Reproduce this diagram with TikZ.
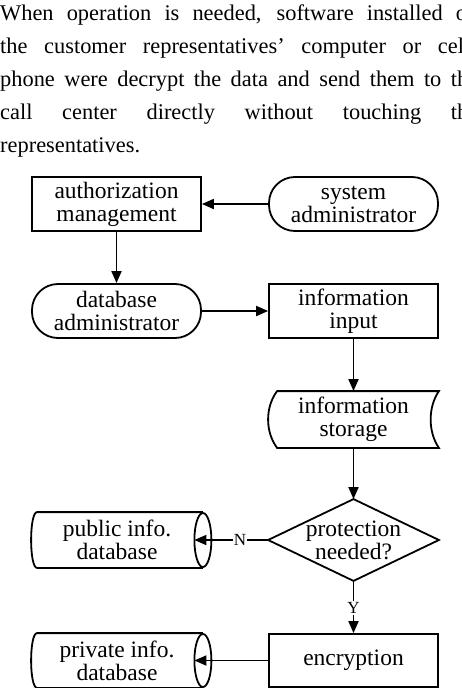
\documentclass[tikz,border=0pt]{standalone}
\usepackage{fontspec}
\setmainfont{Liberation Serif}
\usetikzlibrary{arrows.meta,calc}
\newcommand\diagfont{\fontsize{23.5}{23}\selectfont}
\newcommand\parafont{\fontsize{22.4}{33}\selectfont}
\begin{document}
\begin{tikzpicture}[x=1pt,y=-1pt,
  lw/.style={line width=1.8pt},
  shapebox/.style={lw, minimum width=169pt, minimum height=54pt, inner sep=0pt, align=center, font=\diagfont},
  rectbox/.style={shapebox, draw},
  stadium/.style={shapebox, draw, rounded corners=26pt},
  plainbox/.style={shapebox, draw=none},
  arr/.style={lw, -{Triangle[length=12pt,width=10pt]}},
  lbl/.style={fill=white, inner sep=1pt, font=\fontsize{17}{17}\selectfont},
  paraline/.style={anchor=base west, inner sep=0pt, font=\parafont}]
\useasboundingbox (0,0) rectangle (462,688);
\clip (0,0) rectangle (462,688);

% paragraph
\node[paraline] (p1) at (0,20) {\makebox[478pt][s]{When operation is needed, software installed on}};
\node[paraline] (p2) at (0,53) {\makebox[470pt][s]{the customer representatives’ computer or cell}};
\node[paraline] (p3) at (0,86) {\makebox[478pt][s]{phone were decrypt the data and send them to the}};
\node[paraline] (p4) at (0,119) {\makebox[478pt][s]{call center directly without touching the}};
\node[paraline] (p5) at (0,152) {representatives.};

% nodes
\node[rectbox] (auth) at (116.5,204) {authorization\\management};
\node[stadium] (sys) at (353.5,204) {system\\administrator};
\node[stadium] (dba) at (116.5,311) {database\\administrator};
\node[rectbox] (inp) at (353.5,311) {information\\input};
\node[plainbox, minimum height=55pt] (sto) at (353.5,419.5) {information\\storage};
\node[plainbox, minimum height=80pt] (prot) at (353.5,540) {protection\\needed?};
\node[plainbox, minimum width=170pt] (pub) at (117,540) {public info.\\database};
\node[rectbox, minimum height=53pt] (enc) at (353.5,660.5) {encryption};
\node[plainbox, minimum width=170pt, minimum height=53pt] (pri) at (117,660.5) {private info.\\database};

% storage outline
\draw[lw] ($(sto.north west)+(9,0)$) -- (sto.north east)
  .. controls ($(sto.north east)+(-11,16)$) and ($(sto.south east)+(-11,-16)$) .. (sto.south east)
  -- ($(sto.south west)+(9,0)$)
  .. controls ($(sto.south west)+(-3,-16)$) and ($(sto.north west)+(-3,16)$) .. cycle;

% diamond outline
\draw[lw] (prot.north) -- (prot.east) -- (prot.south) -- (prot.west) -- cycle;

% cylinders
\draw[lw] (pub.north east) -- ($(pub.north west)+(6,0)$)
  .. controls ($(pub.north west)+(-2,0)$) and ($(pub.south west)+(-2,0)$) .. ($(pub.south west)+(6,0)$)
  -- (pub.south east);
\draw[lw] (pub.east) ellipse [x radius=8.5pt, y radius=27pt];
\draw[lw] (pri.north east) -- ($(pri.north west)+(6,0)$)
  .. controls ($(pri.north west)+(-2,0)$) and ($(pri.south west)+(-2,0)$) .. ($(pri.south west)+(6,0)$)
  -- (pri.south east);
\draw[lw] (pri.east) ellipse [x radius=8.5pt, y radius=26.5pt];

% connectors
\draw[arr] (sys.west) -- (auth.east);
\draw[arr] (auth.south) -- (dba.north);
\draw[arr] (dba.east) -- (inp.west);
\draw[arr] (inp.south) -- (sto.north);
\draw[arr] (sto.south) -- (prot.north);
\draw[arr, shorten >=-8.5pt] (prot.west) -- node[lbl, pos=0.43] (nlab) {N} (pub.east);
\draw[arr] (prot.south) -- node[lbl, pos=0.52] (ylab) {Y} (enc.north);
\draw[arr, shorten >=-8.5pt] (enc.west) -- (pri.east);
\end{tikzpicture}
\end{document}
